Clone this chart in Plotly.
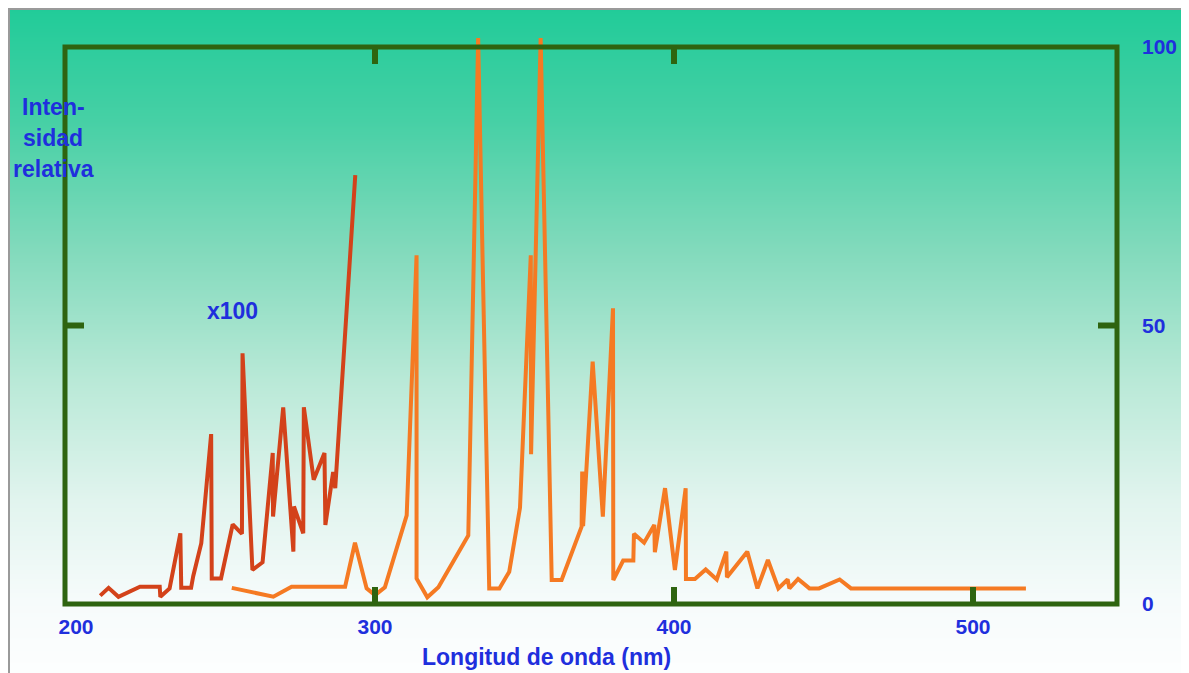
import base64, struct, zlib
import plotly.graph_objects as go

# ---------------- data ----------------
# x100-scaled trace (short wavelengths)
red_x = [208.1, 210.9, 214.2, 221.4, 228.0, 228.2, 231.3, 234.9, 235.2, 238.5, 239.2, 241.9,
         245.2, 245.4, 248.5, 252.4, 255.5, 255.7, 259.0, 262.4, 265.8, 265.9, 269.3, 272.7,
         272.9, 276.0, 276.2, 279.5, 283.1, 283.4, 286.0, 286.7, 293.4]
red_y = [1.5, 2.9, 1.3, 3.1, 3.1, 1.3, 2.8, 12.7, 2.9, 2.9, 5.0, 10.9,
         30.5, 4.6, 4.6, 14.3, 12.6, 45.0, 6.1, 7.5, 27.1, 15.7, 35.3, 9.4,
         17.5, 12.7, 35.3, 22.3, 27.1, 14.2, 23.7, 20.8, 77.0]

# main spectrum
orange_x = [252.1, 266.0, 272.1, 290.0, 293.3, 297.2, 300.0, 303.3, 310.6, 313.9, 313.9, 317.5,
            321.2, 331.2, 334.5, 338.2, 341.6, 344.9, 348.5, 352.1, 352.2, 355.4, 359.1, 362.4,
            369.1, 369.3, 369.6, 372.8, 376.2, 379.6, 379.7, 383.0, 386.4, 386.6, 390.0, 393.4,
            393.6, 397.0, 400.3, 403.9, 404.0, 407.0, 410.6, 414.3, 417.5, 417.7, 424.5, 427.9,
            431.4, 434.9, 438.0, 438.6, 441.5, 445.3, 448.5, 455.4, 459.2, 517.7]
orange_y = [2.9, 1.3, 3.1, 3.1, 11.0, 2.8, 1.6, 3.0, 15.9, 62.6, 4.6, 1.2,
            3.0, 12.3, 101.6, 2.8, 2.8, 5.8, 17.3, 62.6, 26.9, 101.6, 4.3, 4.3,
            13.9, 23.8, 14.0, 43.5, 15.7, 53.1, 4.3, 7.8, 7.8, 12.6, 11.0, 14.2,
            9.3, 20.8, 6.1, 20.8, 4.5, 4.5, 6.2, 4.4, 9.4, 4.8, 9.4, 2.8,
            7.9, 2.8, 4.4, 2.8, 4.5, 2.8, 2.8, 4.4, 2.8, 2.8]

x_tick_vals = [200, 300, 400, 500]
y_tick_vals = [0, 50, 100]
x_title = "Longitud de onda (nm)"
y_title_lines = ["Inten-", "sidad", "relativa"]
scale_label = "x100"

# ---------------- geometry ----------------
# the page body has an 8px margin, so the figure is drawn 8px right/down
OFF = 8
W, H = 1189 - OFF, 673 - OFF
PX_PER_NM = 2.99
X300_PX = 375.0          # page px of 300 nm
PX_PER_UNIT = 5.57
Y0_PX = 604.0            # page px of intensity 0

# plot area in page pixels
PA_L, PA_R, PA_T, PA_B = 55, 1127, 25, 610
L, R, T, B = PA_L - OFF, W - (PA_R - OFF), PA_T - OFF, H - (PA_B - OFF)


def xval(px):
    return 300 + (px - X300_PX) / PX_PER_NM


def yval(py):
    return (Y0_PX - py) / PX_PER_UNIT


x_range = [xval(PA_L), xval(PA_R)]
y_range = [yval(PA_B), yval(PA_T)]
frame_x = [xval(65), xval(1117)]
frame_y = [0, 100]

plot_w = W - L - R
plot_h = H - T - B


def px_paper(px):
    return (px - OFF - L) / plot_w


def py_paper(py):
    return (H - B - (py - OFF)) / plot_h


# ---------------- gradient background ----------------
stops = [(0, (30, 203, 152)), (120, (70, 208, 165)), (250, (130, 218, 188)),
         (380, (185, 233, 215)), (500, (225, 244, 238)), (600, (246, 251, 251)), (700, (255, 255, 255))]


def colour_at(y):
    for (y0, c0), (y1, c1) in zip(stops[:-1], stops[1:]):
        if y0 <= y <= y1:
            t = (y - y0) / (y1 - y0)
            return tuple(int(round(a + (b - a) * t)) for a, b in zip(c0, c1))
    return stops[-1][1]


def make_png(rows, width=4):
    raw = b''.join(b'\x00' + bytes(c) * width for c in rows)

    def chunk(t, d):
        return struct.pack('>I', len(d)) + t + d + struct.pack('>I', zlib.crc32(t + d) & 0xffffffff)

    ihdr = struct.pack('>IIBBBBB', width, len(rows), 8, 2, 0, 0, 0)
    return b'\x89PNG\r\n\x1a\n' + chunk(b'IHDR', ihdr) + chunk(b'IDAT', zlib.compress(raw)) + chunk(b'IEND', b'')


bg_top, bg_bot = OFF, 680
rows = [colour_at(y) for y in range(bg_top, bg_bot)]
png_uri = "data:image/png;base64," + base64.b64encode(make_png(rows)).decode()

# ---------------- figure ----------------
GREEN = "#2e6410"
BLUE = "#1f2fdd"
FONT = "Liberation Sans, Arial, sans-serif"

fig = go.Figure()
fig.add_trace(go.Scatter(x=orange_x, y=orange_y, mode="lines",
                         line=dict(color="#f57a23", width=4), hoverinfo="skip"))
fig.add_trace(go.Scatter(x=red_x, y=red_y, mode="lines",
                         line=dict(color="#d3421a", width=4), hoverinfo="skip"))

shapes = []
shapes.append(dict(type="rect", xref="x", yref="y", x0=frame_x[0], x1=frame_x[1], y0=frame_y[0], y1=frame_y[1],
                   line=dict(color=GREEN, width=5), layer="above"))
tick_len_y = 17 / PX_PER_UNIT
tick_len_x = 19 / PX_PER_NM
for xv in [300, 400, 500]:
    shapes.append(dict(type="line", xref="x", yref="y", x0=xv, x1=xv, y0=0, y1=tick_len_y,
                       line=dict(color=GREEN, width=6)))
for xv in [300, 400]:
    shapes.append(dict(type="line", xref="x", yref="y", x0=xv, x1=xv, y0=100, y1=100 - tick_len_y,
                       line=dict(color=GREEN, width=6)))
shapes.append(dict(type="line", xref="x", yref="y", x0=frame_x[0], x1=frame_x[0] + tick_len_x, y0=50, y1=50,
                   line=dict(color=GREEN, width=6)))
shapes.append(dict(type="line", xref="x", yref="y", x0=frame_x[1], x1=frame_x[1] - tick_len_x, y0=50, y1=50,
                   line=dict(color=GREEN, width=6)))
# outer grey border
shapes.append(dict(type="rect", xref="paper", yref="paper", x0=px_paper(OFF + 1), x1=px_paper(1187),
                   y0=py_paper(700), y1=py_paper(OFF + 1), line=dict(color="#9a9a9a", width=2), layer="below"))

annotations = []
for i, line in enumerate(y_title_lines):
    annotations.append(dict(text=line, xref="paper", yref="paper", x=px_paper(53), y=py_paper(107 + 31 * i),
                            showarrow=False, xanchor="center", yanchor="middle",
                            font=dict(family=FONT, size=23, color=BLUE, weight="bold")))
annotations.append(dict(text=scale_label, xref="paper", yref="paper", x=px_paper(232), y=py_paper(311),
                        showarrow=False, xanchor="center", yanchor="middle",
                        font=dict(family=FONT, size=23, color=BLUE, weight="bold")))
annotations.append(dict(text=x_title, xref="paper", yref="paper", x=px_paper(546), y=py_paper(657),
                        showarrow=False, xanchor="center", yanchor="middle",
                        font=dict(family=FONT, size=23, color=BLUE, weight="bold")))

fig.update_layout(
    width=W, height=H,
    margin=dict(l=L, r=R, t=T, b=B, pad=0),
    paper_bgcolor="white", plot_bgcolor="rgba(0,0,0,0)",
    showlegend=False,
    font=dict(family=FONT, color=BLUE, size=21),
    shapes=shapes,
    images=[dict(source=png_uri, xref="paper", yref="paper", x=px_paper(OFF), y=py_paper(bg_top),
                 sizex=(1190 - OFF) / plot_w, sizey=(bg_bot - bg_top) / plot_h,
                 sizing="stretch", xanchor="left", yanchor="top", layer="below")],
    xaxis=dict(range=x_range, tickvals=x_tick_vals, ticktext=[str(v) for v in x_tick_vals],
               showgrid=False, zeroline=False, showline=False, ticks="",
               tickfont=dict(family=FONT, size=21, color=BLUE, weight="bold"), ticklabelstandoff=2),
    yaxis=dict(range=y_range, tickvals=y_tick_vals, ticktext=[str(v) for v in y_tick_vals], side="right",
               showgrid=False, zeroline=False, showline=False, ticks="",
               tickfont=dict(family=FONT, size=21, color=BLUE, weight="bold"), ticklabelstandoff=14),
    annotations=annotations,
)

fig.write_html("out.html")
